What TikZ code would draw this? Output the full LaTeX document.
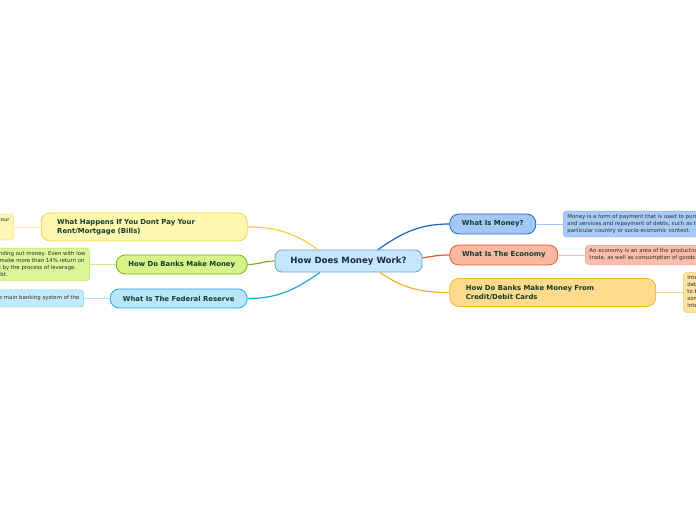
\documentclass[tikz,border=0pt]{standalone}
\usepackage{fontspec}
\setmainfont{DejaVu Sans}
\usepackage{tikz}
\usetikzlibrary{calc, positioning}

\definecolor{hubfill}{HTML}{C6E7FB}
\definecolor{hubline}{HTML}{5E9FD6}
\definecolor{hubtext}{HTML}{1B2A4E}
\definecolor{topictext}{HTML}{123D2E}
\definecolor{notetext}{HTML}{2E2E2E}
\definecolor{moneyfill}{HTML}{A3C8F6}
\definecolor{moneyline}{HTML}{1D63C9}
\definecolor{moneynotefill}{HTML}{A9CCF6}
\definecolor{moneynoteline}{HTML}{7EAEEE}
\definecolor{econfill}{HTML}{F8B8A3}
\definecolor{econline}{HTML}{E8552E}
\definecolor{econnotefill}{HTML}{F9BDA9}
\definecolor{econnoteline}{HTML}{F49E86}
\definecolor{cardfill}{HTML}{FDDA8C}
\definecolor{cardline}{HTML}{F5B12A}
\definecolor{cardnotefill}{HTML}{FDE2A2}
\definecolor{cardnoteline}{HTML}{F7C85A}
\definecolor{rentfill}{HTML}{FFF7B0}
\definecolor{rentline}{HTML}{EED43C}
\definecolor{rentnotefill}{HTML}{FFF6B6}
\definecolor{rentnoteline}{HTML}{F1E27C}
\definecolor{banksfill}{HTML}{D5F387}
\definecolor{banksline}{HTML}{6DB31B}
\definecolor{banksnotefill}{HTML}{DBF599}
\definecolor{banksnoteline}{HTML}{B4E45A}
\definecolor{fedfill}{HTML}{B9E6FA}
\definecolor{fedline}{HTML}{22A6DF}
\definecolor{fednotefill}{HTML}{C4EAFA}
\definecolor{fednoteline}{HTML}{8CD2F0}

\begin{document}
\begin{tikzpicture}[x=1pt, y=1pt, node distance=27pt,
  hubbox/.style={draw=hubline, fill=hubfill, line width=0.8pt, rounded corners=7pt,
    minimum width=147pt, minimum height=22pt, text=hubtext,
    font=\fontsize{8.6}{10}\selectfont\bfseries},
  topic/.style={draw, line width=0.8pt, rounded corners=9pt, text=topictext,
    minimum height=20pt, font=\fontsize{6.9}{9}\selectfont\bfseries},
  widetopic/.style={topic, text width=174pt, align=left, inner xsep=16pt,
    minimum height=28pt},
  note/.style={draw, line width=0.5pt, rounded corners=3pt, text=notetext,
    align=left, inner xsep=4pt, font=\fontsize{5.4}{7}\selectfont},
  branch/.style={line width=1.2pt},
  twig/.style={line width=0.8pt}]

\useasboundingbox (0,0) rectangle (696,520);
\clip (0,0) rectangle (696,520);

\node[hubbox] (hub) at (348.5,259) {How Does Money Work?};

% right side
\node[topic, draw=moneyline, fill=moneyfill, minimum width=86pt, right=of hub, yshift=37pt] (money) {What Is Money?};
\node[topic, draw=econline, fill=econfill, minimum width=108pt, right=of hub, yshift=6pt] (economy) {What Is The Economy};
\node[widetopic, draw=cardline, fill=cardfill, right=of hub, yshift=-31.5pt] (cards) {How Do Banks Make Money From\\Credit/Debit Cards};

% left side
\node[widetopic, draw=rentline, fill=rentfill, left=of hub, yshift=34pt] (rent) {What Happens If You Dont Pay Your\\Rent/Mortgage (Bills)};
\node[topic, draw=banksline, fill=banksfill, minimum width=131pt, minimum height=19pt, left=of hub, yshift=-3.5pt] (banks) {How Do Banks Make Money};
\node[topic, draw=fedline, fill=fedfill, minimum width=137pt, minimum height=19pt, left=of hub, yshift=-37.5pt] (fed) {What Is The Federal Reserve};

% notes
\node[note, draw=moneynoteline, fill=moneynotefill, minimum height=25pt, right=of money] (moneynote) {Money is a form of payment that is used to purchase goods\\and services and repayment of debts, such as taxes, in a\\particular country or socio-economic context.};
\node[note, draw=econnoteline, fill=econnotefill, minimum height=19pt, right=of economy] (economynote) {An economy is an area of the production, distribution and\\trade, as well as consumption of goods and services.};
\node[note, draw=cardnoteline, fill=cardnotefill, minimum height=38pt, right=of cards] (cardsnote) {Interest and fees on\\debt owed by card holders\\to banks, as well as\\some fees paid by stores,\\interchange fees.};
\node[note, draw=rentnoteline, fill=rentnotefill, minimum height=25pt, left=of rent] (rentnote) {If you dont pay your bills it can hurt your\\credit and you could\\lose your home.};
\node[note, draw=banksnoteline, fill=banksnotefill, minimum height=32pt, left=26pt of banks] (banksnote) {Banks make money by lending out money. Even with low\\interest rates, banks can make more than 14\% return on\\equity. Much of it is made by the process of leverage.\\Leverage means using debt.};
\node[note, draw=fednoteline, fill=fednotefill, minimum height=17pt, left=26pt of fed] (fednote) {The Federal Reserve is the main banking system of the};

% branches
\draw[branch, moneyline] ($(hub.north)+(29.5,0)$) to[out=35, in=180] (money.west);
\draw[branch, econline] ($(hub.east)+(0,3)$) to[out=10, in=180] (economy.west);
\draw[branch, cardline] ($(hub.south)+(31.5,0)$) to[out=-35, in=180] (cards.west);
\draw[branch, rentline] ($(hub.north)+(-30.5,0)$) to[out=145, in=0] (rent.east);
\draw[branch, banksline] (hub.west) to[out=180, in=0] (banks.east);
\draw[branch, fedline] ($(hub.south)+(-28.5,0)$) to[out=-145, in=0] (fed.east);

% twigs
\draw[twig, moneynoteline!70] (money) -- (moneynote);
\draw[twig, econnoteline!70] (economy) -- (economynote);
\draw[twig, cardnoteline!70] (cards) -- (cardsnote);
\draw[twig, rentnoteline!70] (rent) -- (rentnote);
\draw[twig, banksnoteline!70] (banks) -- (banksnote);
\draw[twig, fednoteline!70] (fed) -- (fednote);

\end{tikzpicture}
\end{document}
